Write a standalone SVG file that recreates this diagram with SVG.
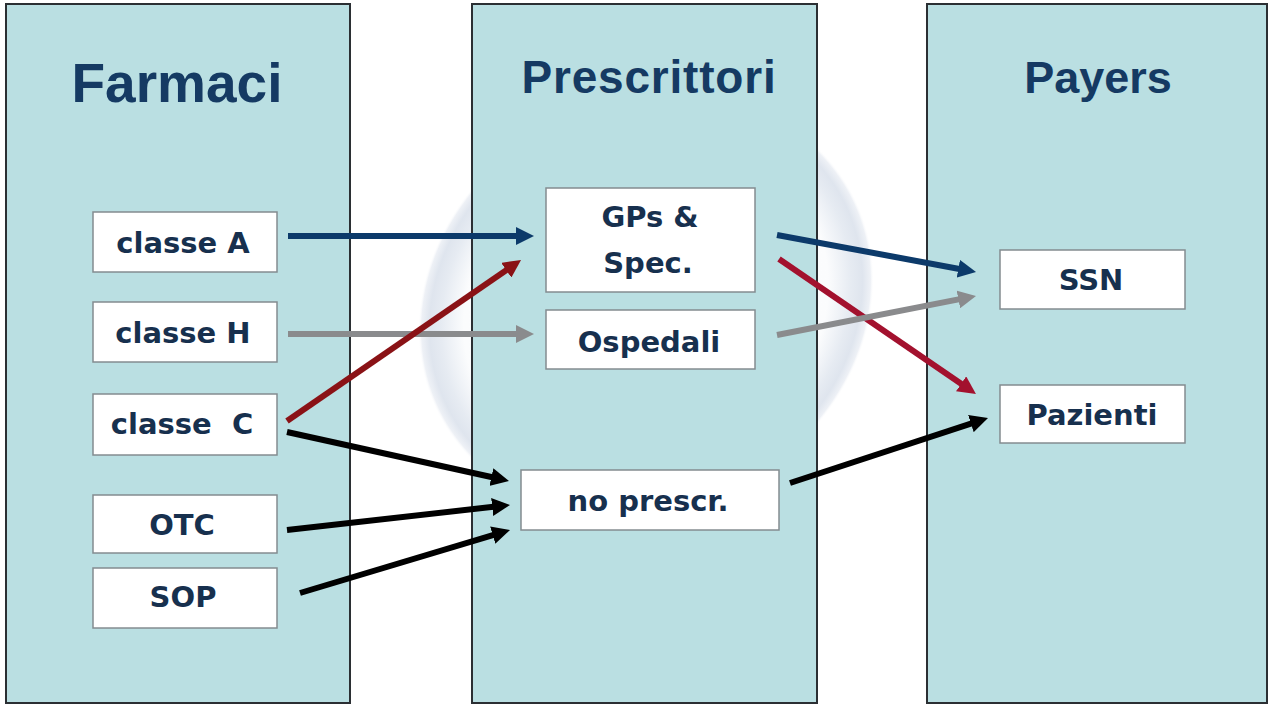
<svg xmlns="http://www.w3.org/2000/svg" width="1271" height="707" viewBox="0 0 1271 707">
  <style>
    .panel { fill: #badfe2; stroke: #2b2f33; stroke-width: 2; }
    .box { fill: #ffffff; stroke: #848c90; stroke-width: 1.5; }
    .title { font-family: "Liberation Sans", Arial, sans-serif; font-weight: bold; fill: #153a63; text-anchor: middle; }
    .label { font-family: "DejaVu Sans", Verdana, sans-serif; font-weight: bold; font-size: 29px; fill: #17304e; text-anchor: middle; }
    .conn { fill: none; stroke-width: 6; stroke-linecap: butt; }
  </style>
  <defs>
    <radialGradient id="globe" cx="0.5" cy="0.5" r="0.5">
      <stop offset="0" stop-color="#ffffff"/>
      <stop offset="0.8" stop-color="#fbfcfd"/>
      <stop offset="0.9" stop-color="#e6ebf2"/>
      <stop offset="0.95" stop-color="#dfe5ee"/>
      <stop offset="0.985" stop-color="#eef1f6"/>
      <stop offset="1" stop-color="#ffffff" stop-opacity="0"/>
    </radialGradient>
    <marker id="ah-blue" viewBox="0 0 18 18" refX="8" refY="9" markerWidth="18" markerHeight="18" markerUnits="userSpaceOnUse" orient="auto">
      <path d="M0,0 L18,9 L0,18 z" fill="#0c3a6a"/>
    </marker>
    <marker id="ah-grey" viewBox="0 0 18 18" refX="8" refY="9" markerWidth="18" markerHeight="18" markerUnits="userSpaceOnUse" orient="auto">
      <path d="M0,0 L18,9 L0,18 z" fill="#8a8b8d"/>
    </marker>
    <marker id="ah-red" viewBox="0 0 18 18" refX="8" refY="9" markerWidth="18" markerHeight="18" markerUnits="userSpaceOnUse" orient="auto">
      <path d="M0,0 L18,9 L0,18 z" fill="#8a1216"/>
    </marker>
    <marker id="ah-crimson" viewBox="0 0 18 18" refX="8" refY="9" markerWidth="18" markerHeight="18" markerUnits="userSpaceOnUse" orient="auto">
      <path d="M0,0 L18,9 L0,18 z" fill="#a3112e"/>
    </marker>
    <marker id="ah-black" viewBox="0 0 18 18" refX="8" refY="9" markerWidth="18" markerHeight="18" markerUnits="userSpaceOnUse" orient="auto">
      <path d="M0,0 L18,9 L0,18 z" fill="#000000"/>
    </marker>
  </defs>

  <rect x="0" y="0" width="1271" height="707" fill="#ffffff"/>

  <!-- faint sphere behind the middle column -->
  <ellipse cx="646" cy="305" rx="235" ry="205" transform="rotate(-30 646 305)" fill="url(#globe)"/>

  <!-- columns -->
  <g id="col-farmaci">
    <rect class="panel" x="6" y="4" width="344" height="699"/>
    <text class="title" x="177" y="102" font-size="55">Farmaci</text>
  </g>
  <g id="col-prescrittori">
    <rect class="panel" x="472" y="4" width="345" height="699"/>
    <text class="title" x="649" y="93" font-size="46" letter-spacing="0.8">Prescrittori</text>
  </g>
  <g id="col-payers">
    <rect class="panel" x="927" y="4" width="340" height="699"/>
    <text class="title" x="1098" y="93" font-size="45">Payers</text>
  </g>

  <!-- drug classes -->
  <g id="classe-a">
    <rect class="box" x="93" y="212" width="184" height="60"/>
    <text class="label" x="183" y="253">classe A</text>
  </g>
  <g id="classe-h">
    <rect class="box" x="93" y="302" width="184" height="60"/>
    <text class="label" x="183" y="343">classe H</text>
  </g>
  <g id="classe-c">
    <rect class="box" x="93" y="394" width="184" height="61"/>
    <text class="label" x="182" y="434" xml:space="preserve">classe  C</text>
  </g>
  <g id="otc">
    <rect class="box" x="93" y="495" width="184" height="58"/>
    <text class="label" x="182" y="535">OTC</text>
  </g>
  <g id="sop">
    <rect class="box" x="93" y="568" width="184" height="60"/>
    <text class="label" x="183" y="607">SOP</text>
  </g>

  <!-- prescribers -->
  <g id="gps-spec">
    <rect class="box" x="546" y="188" width="209" height="104"/>
    <text class="label" x="650" y="227" font-size="27">GPs &amp;</text>
    <text class="label" x="648" y="273" font-size="27">Spec.</text>
  </g>
  <g id="ospedali">
    <rect class="box" x="546" y="310" width="209" height="59"/>
    <text class="label" x="649" y="352">Ospedali</text>
  </g>
  <g id="no-prescr">
    <rect class="box" x="521" y="470" width="258" height="60"/>
    <text class="label" x="648" y="511">no prescr.</text>
  </g>

  <!-- payers -->
  <g id="ssn">
    <rect class="box" x="1000" y="250" width="185" height="59"/>
    <text class="label" x="1091" y="290">SSN</text>
  </g>
  <g id="pazienti">
    <rect class="box" x="1000" y="385" width="185" height="58"/>
    <text class="label" x="1092" y="425">Pazienti</text>
  </g>

  <!-- connectors -->
  <g id="connectors">
    <line class="conn" x1="288" y1="236" x2="524" y2="236" stroke="#0c3a6a" marker-end="url(#ah-blue)"/>
    <line class="conn" x1="288" y1="334" x2="524" y2="334" stroke="#8a8b8d" marker-end="url(#ah-grey)"/>
    <line class="conn" x1="287" y1="421" x2="512.8" y2="265.7" stroke="#8a1216" marker-end="url(#ah-red)"/>
    <line class="conn" x1="287" y1="432" x2="499.2" y2="478.8" stroke="#000000" stroke-width="7" marker-end="url(#ah-black)"/>
    <line class="conn" x1="287" y1="530" x2="500.1" y2="506.1" stroke="#000000" stroke-width="7" marker-end="url(#ah-black)"/>
    <line class="conn" x1="300" y1="593" x2="500.4" y2="532.9" stroke="#000000" stroke-width="7" marker-end="url(#ah-black)"/>
    <line class="conn" x1="777" y1="235" x2="966.2" y2="270.2" stroke="#0c3a6a" marker-end="url(#ah-blue)"/>
    <line class="conn" x1="779" y1="259" x2="967.7" y2="388.3" stroke="#a3112e" marker-end="url(#ah-crimson)"/>
    <line class="conn" x1="777" y1="335" x2="966.2" y2="297.9" stroke="#8a8b8d" marker-end="url(#ah-grey)"/>
    <line class="conn" x1="790" y1="483" x2="978.5" y2="421.1" stroke="#000000" stroke-width="7" marker-end="url(#ah-black)"/>
  </g>
</svg>
